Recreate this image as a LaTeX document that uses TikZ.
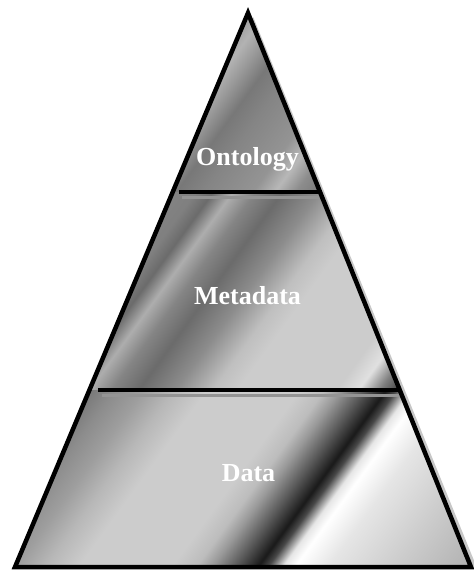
\documentclass[tikz,border=0pt]{standalone}
\usepackage{fontspec}
\setmainfont{Liberation Serif}
\pgfdeclarehorizontalshading{metalA}{100bp}{color(0bp)=(black!42); color(43.75bp)=(black!42); color(45.42bp)=(black!30); color(46.67bp)=(black!40); color(48.17bp)=(black!53); color(50bp)=(black!48); color(53.33bp)=(black!42); color(54.83bp)=(black!28); color(56.25bp)=(black!45); color(58.33bp)=(black!55); color(100bp)=(black!55)}
\pgfdeclarehorizontalshading{metalB}{100bp}{color(0bp)=(black!48); color(39.58bp)=(black!48); color(41.67bp)=(black!50); color(42.83bp)=(black!58); color(44.17bp)=(black!32); color(45.67bp)=(black!48); color(47.5bp)=(black!58); color(50bp)=(black!45); color(52.5bp)=(black!25); color(54.17bp)=(black!20); color(60.83bp)=(black!20); color(62.33bp)=(black!12); color(63.75bp)=(black!50); color(64.83bp)=(black!70); color(65.83bp)=(black!65); color(100bp)=(black!65)}
\pgfdeclarehorizontalshading{metalC}{100bp}{color(0bp)=(black!55); color(34.58bp)=(black!55); color(36.67bp)=(black!45); color(38.67bp)=(black!38); color(40.67bp)=(black!28); color(42.92bp)=(black!20); color(49.17bp)=(black!20); color(50.83bp)=(black!26); color(51.92bp)=(black!40); color(53.5bp)=(black!65); color(55bp)=(black!90); color(55.67bp)=(black!72); color(56.67bp)=(black!10); color(57.5bp)=(white); color(59.75bp)=(black!10); color(64.25bp)=(black!20); color(70bp)=(black!32); color(100bp)=(black!32)}
\begin{document}
\begin{tikzpicture}[x=1pt,y=-1pt,
  outline/.style={line width=4.5pt, line join=miter},
  sepline/.style={black, line width=4.5pt},
  sepshadow/.style={black!42, line width=3pt},
  edgeshadow/.style={black!22, line width=3pt},
  tiername/.style={text=white, font=\fontsize{26}{30}\selectfont\bfseries, inner sep=0pt, anchor=base}]
\useasboundingbox (0,0) rectangle (474,571);
% corner points
\coordinate (A) at (248,13);
\coordinate (BL) at (15,567);
\coordinate (BR) at (471,567);
\coordinate (L1) at (172.7,192);
\coordinate (R1) at (320.05,192);
\coordinate (L2) at (89.4,390);
\coordinate (R2) at (399.75,390);
% top section
\begin{scope}
  \clip (A) -- (R1) -- (L1) -- cycle;
  \begin{scope}[transform canvas={shift={(248,130)}, rotate=-36}]
    \shade[shading=metalA] (-300,-300) rectangle (300,300);
  \end{scope}
\end{scope}
% middle section
\begin{scope}
  \clip (L1) -- (R1) -- (R2) -- (L2) -- cycle;
  \begin{scope}[transform canvas={shift={(248,290)}, rotate=-36}]
    \shade[shading=metalB] (-300,-300) rectangle (300,300);
  \end{scope}
\end{scope}
% bottom section
\begin{scope}
  \clip (L2) -- (R2) -- (BR) -- (BL) -- cycle;
  \begin{scope}[transform canvas={shift={(248,478)}, rotate=-36}]
    \shade[shading=metalC] (-300,-300) rectangle (300,300);
  \end{scope}
\end{scope}
% separators
\coordinate (S1a) at (179,192);
\coordinate (S1b) at (319,192);
\coordinate (S1c) at (182,197);
\coordinate (S1d) at (323,197);
\coordinate (S2a) at (98,390);
\coordinate (S2b) at (399,390);
\coordinate (S2c) at (102,395);
\coordinate (S2d) at (403,395);
\draw[sepshadow] (S1c) -- (S1d);
\draw[sepshadow] (S2c) -- (S2d);
\draw[sepline] (S1a) -- (S1b);
\draw[sepline] (S2a) -- (S2b);
% outer edge shadow and outline
\coordinate (As) at (252,18);
\coordinate (BRs) at (475,567);
\draw[edgeshadow] (As) -- (BRs);
\draw[outline] (A) -- (BR) -- (BL) -- cycle;
% labels
\node[tiername] (ont) at (247.5,165.5) {Ontology};
\node[tiername] (meta) at (247.5,304) {Metadata};
\node[tiername] (data) at (248.5,481.5) {Data};
\end{tikzpicture}
\end{document}
